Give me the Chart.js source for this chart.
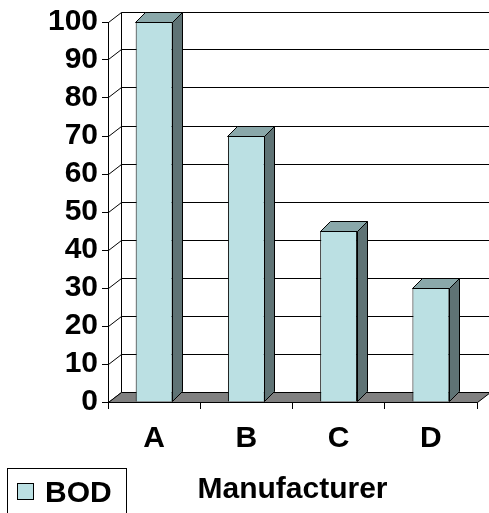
<!DOCTYPE html>
<html>
<head>
<meta charset="utf-8">
<title>BOD by manufacturer</title>
<script src="https://cdn.jsdelivr.net/npm/chart.js@4"></script>
<style>
    html, body { margin: 0; padding: 0; background: #fff; }
    #wrap { width: 489px; height: 513px; position: relative; }
</style>
</head>
<body>
<div id="wrap"><canvas id="bodChart"></canvas></div>
<script>
//data
const categories = ["A", "B", "C", "D"];
const bodValues = [100, 70, 45, 30];
const seriesName = "BOD";
const axisTitle = "Manufacturer";
const yMin = 0;
const yMax = 100;
const yStep = 10;

//colours
const faceColor = "#bbe0e3";
const sideColor = "#5f7375";
const topColor = "#8aa8aa";
const floorColor = "#808080";

const FONT = "'Liberation Sans', Arial, sans-serif";
const labelFont = { family: FONT, size: 30, weight: "bold" };

//depth offsets for the walls and for the bars
const wall = { dx: 13, dy: 10 };
const depth = { dx: 10, dy: 10 };

const snap = p => Math.round(p - 0.5) + 0.5;

//side wall, back wall grid, floor and the bar tops/sides
const depthPlugin = {
    id: "depth",
    beforeDatasetsDraw(chart) {
        const { ctx, chartArea, scales } = chart;
        const left = snap(chartArea.left);
        const right = snap(chartArea.right);
        const top = snap(chartArea.top);
        const bottom = snap(chartArea.bottom);
        const y = scales.y;

        ctx.save();
        ctx.strokeStyle = "#000";
        ctx.lineWidth = 1;

        y.ticks.forEach(t => {
            const py = snap(y.getPixelForValue(t.value));
            ctx.beginPath();
            ctx.moveTo(left, py);
            ctx.lineTo(left + wall.dx, py - wall.dy);
            if (t.value !== yMin) ctx.lineTo(right + wall.dx, py - wall.dy);
            ctx.stroke();
        });

        ctx.beginPath();
        ctx.moveTo(left + wall.dx, top - wall.dy);
        ctx.lineTo(left + wall.dx, bottom - wall.dy);
        ctx.stroke();

        //floor
        ctx.beginPath();
        ctx.moveTo(left, bottom);
        ctx.lineTo(right, bottom);
        ctx.lineTo(right + wall.dx, bottom - wall.dy);
        ctx.lineTo(left + wall.dx, bottom - wall.dy);
        ctx.closePath();
        ctx.fillStyle = floorColor;
        ctx.fill();
        ctx.stroke();

        //bars
        chart.getDatasetMeta(0).data.forEach(bar => {
            const p = bar.getProps(["x", "y", "base", "width"], true);
            const l = snap(p.x - p.width / 2);
            const r = snap(p.x + p.width / 2);
            const t = snap(p.y);
            const b = snap(p.base);

            ctx.beginPath();
            ctx.moveTo(r, t);
            ctx.lineTo(r + depth.dx, t - depth.dy);
            ctx.lineTo(r + depth.dx, b - depth.dy);
            ctx.lineTo(r, b);
            ctx.closePath();
            ctx.fillStyle = sideColor;
            ctx.fill();
            ctx.stroke();

            ctx.beginPath();
            ctx.moveTo(l, t);
            ctx.lineTo(l + depth.dx, t - depth.dy);
            ctx.lineTo(r + depth.dx, t - depth.dy);
            ctx.lineTo(r, t);
            ctx.closePath();
            ctx.fillStyle = topColor;
            ctx.fill();
            ctx.stroke();
        });
        ctx.restore();
    }
};

//framed legend in the bottom-left corner
const legendBox = {
    id: "legendBox",
    afterDraw(chart) {
        const { ctx } = chart;
        const ds = chart.data.datasets[0];
        ctx.save();
        ctx.strokeStyle = "#000";
        ctx.lineWidth = 1;
        ctx.strokeRect(7.5, 468.5, 119, 60);
        ctx.fillStyle = ds.backgroundColor;
        ctx.fillRect(17.5, 483.5, 16, 16);
        ctx.strokeRect(17.5, 483.5, 16, 16);
        ctx.fillStyle = "#000";
        ctx.font = "bold 30px " + FONT;
        ctx.textBaseline = "middle";
        ctx.textAlign = "left";
        ctx.fillText(ds.label, 45, 494);
        ctx.restore();
    }
};

new Chart(document.getElementById("bodChart"), {
    type: "bar",
    data: {
        labels: categories,
        datasets: [{
            label: seriesName,
            data: bodValues,
            backgroundColor: faceColor,
            borderColor: "#000",
            borderWidth: 1,
            categoryPercentage: 1,
            barPercentage: 0.4
        }]
    },
    options: {
        responsive: true,
        maintainAspectRatio: false,
        animation: false,
        layout: { padding: { top: 22, right: 12, left: 0, bottom: 0 } },
        plugins: {
            legend: { display: false },
            tooltip: { enabled: false }
        },
        scales: {
            x: {
                offset: true,
                grid: { offset: true, drawOnChartArea: false, color: "#000", tickLength: 7 },
                border: { display: true, color: "#000" },
                ticks: { color: "#000", font: labelFont, padding: 12 },
                title: {
                    display: true,
                    text: axisTitle,
                    color: "#000",
                    font: labelFont,
                    padding: { top: 0, bottom: 5 }
                },
                afterFit(scale) { scale.height = 111; }
            },
            y: {
                min: yMin,
                max: yMax,
                ticks: { stepSize: yStep, color: "#000", font: labelFont, padding: 4, autoSkip: false },
                grid: { drawOnChartArea: false, color: "#000", tickLength: 6 },
                border: { display: true, color: "#000" },
                afterFit(scale) { scale.width = 108; }
            }
        }
    },
    plugins: [depthPlugin, legendBox]
});
</script>
</body>
</html>
